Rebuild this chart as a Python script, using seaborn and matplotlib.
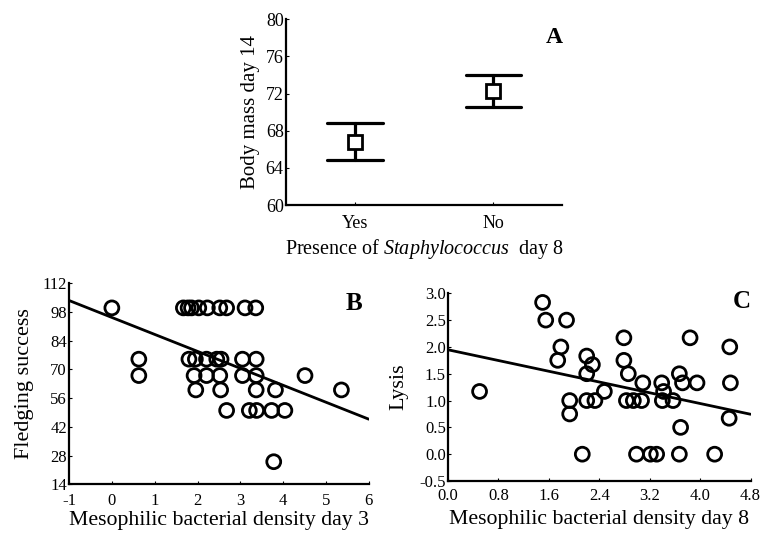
import numpy as np
import pandas as pd
import matplotlib
matplotlib.use("Agg")
import matplotlib.pyplot as plt
import seaborn as sns

# ---------------- data ----------------
# Panel A: body mass day 14 by presence of Staphylococcus (mean and error limits)
groups_a = ["Yes", "No"]
mass_lower = [64.8, 70.6]
mass_upper = [68.8, 74.0]

# Panel B: fledging success vs mesophilic bacterial density day 3
dens3 = [0.0, 1.67, 1.78, 1.86, 2.03, 2.23, 2.52, 2.68, 3.11, 3.36,
         0.63, 1.80, 1.95, 2.21, 2.45, 2.55, 3.05, 3.37,
         0.63, 1.92, 2.21, 2.52, 3.05, 3.37, 4.51,
         1.96, 2.54, 3.37, 3.82, 5.36,
         2.68, 3.21, 3.38, 3.73, 4.04,
         3.78]
fledg = [100, 100, 100, 100, 100, 100, 100, 100, 100, 100,
         75, 75, 75, 75, 75, 75, 75, 75,
         67, 67, 67, 67, 67, 67, 67,
         60, 60, 60, 60, 60,
         50, 50, 50, 50, 50,
         25]

# Panel C: lysis vs mesophilic bacterial density day 8
dens8 = [1.50, 1.55, 1.88, 1.79, 1.74, 2.20, 2.29, 2.20, 0.50, 1.93,
         1.93, 2.20, 2.33, 2.48, 2.13, 2.79, 2.79, 2.86, 2.83, 2.94,
         3.07, 3.09, 2.99, 3.21, 3.31, 3.39, 3.42, 3.40, 3.57, 3.67,
         3.72, 3.95, 3.84, 3.67, 3.69, 4.23, 4.47, 4.48, 4.46]
lysis = [2.83, 2.50, 2.50, 2.00, 1.75, 1.83, 1.67, 1.50, 1.17, 1.00,
         0.75, 1.00, 1.00, 1.17, 0.00, 2.17, 1.75, 1.50, 1.00, 1.00,
         1.00, 1.33, 0.00, 0.00, 0.00, 1.33, 1.17, 1.00, 1.00, 1.50,
         1.33, 1.33, 2.17, 0.00, 0.50, 0.00, 2.00, 1.33, 0.67]

# ---------------- style ----------------
sns.set_theme(style="ticks")
plt.rcParams["font.family"] = ["Liberation Serif", "DejaVu Serif"]
plt.rcParams["mathtext.fontset"] = "custom"
plt.rcParams["mathtext.it"] = "Liberation Serif:italic"
plt.rcParams["mathtext.rm"] = "Liberation Serif"
plt.rcParams["axes.unicode_minus"] = False
plt.rcParams["text.color"] = "black"
plt.rcParams["axes.labelcolor"] = "black"
plt.rcParams["xtick.color"] = "black"
plt.rcParams["ytick.color"] = "black"

fig = plt.figure(figsize=(7.62, 5.36), dpi=100)

def style_axes(ax, fs=11, xpad=6):
    for s in ["top", "right"]:
        ax.spines[s].set_visible(False)
    for s in ["left", "bottom"]:
        ax.spines[s].set_color("black")
        ax.spines[s].set_linewidth(1.6)
    ax.tick_params(direction="in", length=2, width=0.8,
                   labelsize=fs, colors="black", labelcolor="black")
    ax.tick_params(axis="y", pad=1.5)
    ax.tick_params(axis="x", pad=xpad)

# ---- Panel A ----
axA = fig.add_axes([0.375, 0.6175, 0.363, 0.3465])
dfA = pd.DataFrame({
    "group": groups_a + groups_a,
    "mass": mass_lower + mass_upper,
})
sns.pointplot(data=dfA, x="group", y="mass", order=groups_a,
              estimator="mean", errorbar=("pi", 100),
              markers="s", linestyles="none", color="black",
              capsize=0.4, err_kws={"linewidth": 2.3, "color": "black"},
              markerfacecolor="white", markeredgecolor="black",
              markersize=9.5, markeredgewidth=2.0, zorder=5, ax=axA)
for ln in axA.lines:
    if ln.get_marker() == "s":
        ln.set_zorder(10)
axA.set_xlim(-0.5, 1.5)
axA.set_ylim(60, 80)
axA.set_yticks([60, 64, 68, 72, 76, 80])
style_axes(axA, fs=13, xpad=7)
axA.set_ylabel("Body mass day 14", fontsize=15, labelpad=4)
axA.set_xlabel(r"Presence of $\it{Staphylococcus}$  day 8", fontsize=14.5, labelpad=3.5)
axA.text(1.0, 0.958, "A", transform=axA.transAxes, fontsize=17,
         fontweight="bold", ha="right", va="top")

# ---- Panel B ----
axB = fig.add_axes([0.0906, 0.0965, 0.3934, 0.375])
dfB = pd.DataFrame({"dens": dens3, "fledg": fledg})
axB.set_xlim(-1, 6)
sns.regplot(data=dfB, x="dens", y="fledg", ci=None, truncate=False, ax=axB,
            scatter_kws={"s": 100, "facecolors": "none", "edgecolors": "black",
                         "linewidths": 2.0, "zorder": 3, "alpha": 1},
            line_kws={"color": "black", "linewidth": 2.0})
axB.set_xlim(-1, 6)
axB.set_ylim(14, 112)
axB.set_yticks([14, 28, 42, 56, 70, 84, 98, 112])
axB.set_xticks([-1, 0, 1, 2, 3, 4, 5, 6])
style_axes(axB, fs=12, xpad=6)
axB.set_ylabel("Fledging success", fontsize=16, labelpad=6)
axB.set_xlabel("Mesophilic bacterial density day 3", fontsize=15.7, labelpad=2)
axB.text(0.977, 0.957, "B", transform=axB.transAxes, fontsize=18,
         fontweight="bold", ha="right", va="top")

# ---- Panel C ----
axC = fig.add_axes([0.588, 0.1026, 0.397, 0.3502])
dfC = pd.DataFrame({"dens": dens8, "lysis": lysis})
axC.set_xlim(0, 4.8)
sns.regplot(data=dfC, x="dens", y="lysis", ci=None, truncate=False, ax=axC,
            scatter_kws={"s": 100, "facecolors": "none", "edgecolors": "black",
                         "linewidths": 2.0, "zorder": 3, "alpha": 1},
            line_kws={"color": "black", "linewidth": 2.0})
axC.set_xlim(0, 4.8)
axC.set_ylim(-0.5, 3.0)
yt = [-0.5, 0.0, 0.5, 1.0, 1.5, 2.0, 2.5, 3.0]
xt = [0.0, 0.8, 1.6, 2.4, 3.2, 4.0, 4.8]
axC.set_yticks(yt)
axC.set_yticklabels([f"{v:.1f}" for v in yt])
axC.set_xticks(xt)
axC.set_xticklabels([f"{v:.1f}" for v in xt])
style_axes(axC, fs=12, xpad=5)
axC.set_ylabel("Lysis", fontsize=16, labelpad=8)
axC.set_xlabel("Mesophilic bacterial density day 8", fontsize=15.7, labelpad=4.5)
axC.text(1.0, 1.02, "C", transform=axC.transAxes, fontsize=18,
         fontweight="bold", ha="right", va="top")

fig.savefig("out.png", dpi=100)
